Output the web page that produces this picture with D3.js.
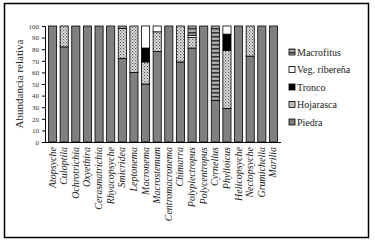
<!DOCTYPE html>
<html>
<head>
<meta charset="utf-8">
<script src="https://cdn.jsdelivr.net/npm/d3@7"></script>
<style>
  body { margin: 0; background: #fff; }
  svg { display: block; }
</style>
</head>
<body>
<div class="canvas"></div>
<script>
const genera = ['Atopsyche', 'Culoptila', 'Ochrotrichia', 'Oxyethira', 'Cerasmatrichia',
    'Rhyacopsyche', 'Smicridea', 'Leptonema', 'Macronema', 'Macrostemum',
    'Centromacronema', 'Chimarra', 'Polyplectropus', 'Polycentropus', 'Cyrnellus',
    'Phylloicus', 'Helicopsyche', 'Nectopsyche', 'Grumichella', 'Marilia']

const piedra     = [100, 82, 100, 100, 100, 100, 72, 60, 50, 78, 100, 69, 81, 100, 36, 29, 100, 74, 100, 100]
const hojarasca  = [0, 18, 0, 0, 0, 0, 26, 40, 19, 17, 0, 31, 9, 0, 0, 50, 0, 26, 0, 0]
const tronco     = [0, 0, 0, 0, 0, 0, 0, 0, 12, 0, 0, 0, 0, 0, 0, 14, 0, 0, 0, 0]
const vegRiber   = [0, 0, 0, 0, 0, 0, 0, 0, 19, 5, 0, 0, 2, 0, 0, 7, 0, 0, 0, 0]
const macrofitas = [0, 0, 0, 0, 0, 0, 2, 0, 0, 0, 0, 0, 8, 0, 64, 0, 0, 0, 0, 0]

const yTicks = [0, 10, 20, 30, 40, 50, 60, 70, 80, 90, 100]

const seriesNames = ['Piedra', 'Hojarasca', 'Tronco', 'Veg. ribereña', 'Macrofitas']
const legendNames = ['Macrofitus', 'Veg. ribereña', 'Tronco', 'Hojarasca', 'Piedra']
const fills = {
    'Piedra': '#808080',
    'Hojarasca': 'url(#hatch)',
    'Tronco': '#000',
    'Veg. ribereña': '#fff',
    'Macrofitas': 'url(#stripes)'
}
const legendFill = {
    'Macrofitus': fills['Macrofitas'],
    'Veg. ribereña': fills['Veg. ribereña'],
    'Tronco': fills['Tronco'],
    'Hojarasca': fills['Hojarasca'],
    'Piedra': fills['Piedra']
}

const table = genera.map((g, i) => ({
    genus: g,
    'Piedra': piedra[i],
    'Hojarasca': hojarasca[i],
    'Tronco': tronco[i],
    'Veg. ribereña': vegRiber[i],
    'Macrofitas': macrofitas[i]
}))

const svg = d3.select('.canvas')
    .append('svg')
    .attr('width', 375)
    .attr('height', 245)

const defs = svg.append('defs')

// dotted/checked fill for Hojarasca
const hatch = defs.append('pattern')
    .attr('id', 'hatch')
    .attr('patternUnits', 'userSpaceOnUse')
    .attr('width', 3)
    .attr('height', 3)
hatch.append('rect').attr('width', 3).attr('height', 3).attr('fill', '#e6e6e6')
hatch.append('rect').attr('width', 1.2).attr('height', 1.2).attr('fill', '#555')
hatch.append('rect').attr('x', 1.5).attr('y', 1.5).attr('width', 1.2).attr('height', 1.2).attr('fill', '#777')

// horizontal stripes for Macrofitas
const stripes = defs.append('pattern')
    .attr('id', 'stripes')
    .attr('patternUnits', 'userSpaceOnUse')
    .attr('width', 4)
    .attr('height', 4)
stripes.append('rect').attr('width', 4).attr('height', 4).attr('fill', '#aaa')
stripes.append('rect').attr('y', 0).attr('width', 4).attr('height', 1.5).attr('fill', '#333')

// outer frame
svg.append('rect')
    .attr('x', 4.5)
    .attr('y', 3.5)
    .attr('width', 364)
    .attr('height', 234)
    .attr('fill', 'none')
    .attr('stroke', '#000')
    .attr('stroke-width', 1.5)

const x = d3.scaleBand()
    .domain(genera)
    .range([45, 281])
    .paddingInner(0.3)
    .paddingOuter(0.3)

const y = d3.scaleLinear()
    .domain([0, 100])
    .range([142, 26])

const stack = d3.stack().keys(seriesNames)
const layers = stack(table)

svg.append('g')
    .selectAll('g')
    .data(layers)
    .join('g')
    .attr('fill', d => fills[d.key])
    .selectAll('rect')
    .data(d => d.filter(s => s[1] - s[0] > 0))
    .join('rect')
    .attr('x', d => x(d.data.genus))
    .attr('y', d => y(d[1]))
    .attr('width', x.bandwidth())
    .attr('height', d => y(d[0]) - y(d[1]))
    .attr('stroke', '#000')
    .attr('stroke-width', 0.8)

// y axis
const yAxis = svg.append('g')
    .attr('transform', 'translate(45,0)')
    .call(d3.axisLeft(y).tickValues(yTicks).tickSize(3))
yAxis.select('.domain').attr('stroke', '#000')
yAxis.selectAll('text')
    .attr('font-family', 'Liberation Serif, serif')
    .attr('font-size', 7)
    .attr('fill', '#333')

// x axis line
svg.append('line')
    .attr('x1', 45)
    .attr('x2', 281)
    .attr('y1', y(0) + 0.5)
    .attr('y2', y(0) + 0.5)
    .attr('stroke', '#000')

// category labels
svg.append('g')
    .selectAll('text')
    .data(genera)
    .join('text')
    .attr('transform', d => `translate(${x(d) + x.bandwidth() / 2 + 3}, 147) rotate(-90)`)
    .attr('text-anchor', 'end')
    .attr('font-family', 'Liberation Serif, serif')
    .attr('font-style', 'italic')
    .attr('font-size', 10)
    .attr('fill', '#222')
    .text(d => d)

// y title
svg.append('text')
    .attr('transform', `translate(23, ${y(50)}) rotate(-90)`)
    .attr('text-anchor', 'middle')
    .attr('font-family', 'Liberation Serif, serif')
    .attr('font-size', 11)
    .attr('fill', '#222')
    .text('Abundancia relativa')

// legend
const legend = svg.append('g')
    .selectAll('g')
    .data(legendNames)
    .join('g')
    .attr('transform', (d, i) => `translate(289, ${52 + i * 17.5})`)

legend.append('rect')
    .attr('x', 0)
    .attr('y', -3)
    .attr('width', 6)
    .attr('height', 6)
    .attr('fill', d => legendFill[d])
    .attr('stroke', '#000')
    .attr('stroke-width', 0.8)

legend.append('text')
    .attr('x', 8)
    .attr('y', 3.5)
    .attr('font-family', 'Liberation Serif, serif')
    .attr('font-size', 10)
    .attr('fill', '#222')
    .text(d => d)
</script>
</body>
</html>
